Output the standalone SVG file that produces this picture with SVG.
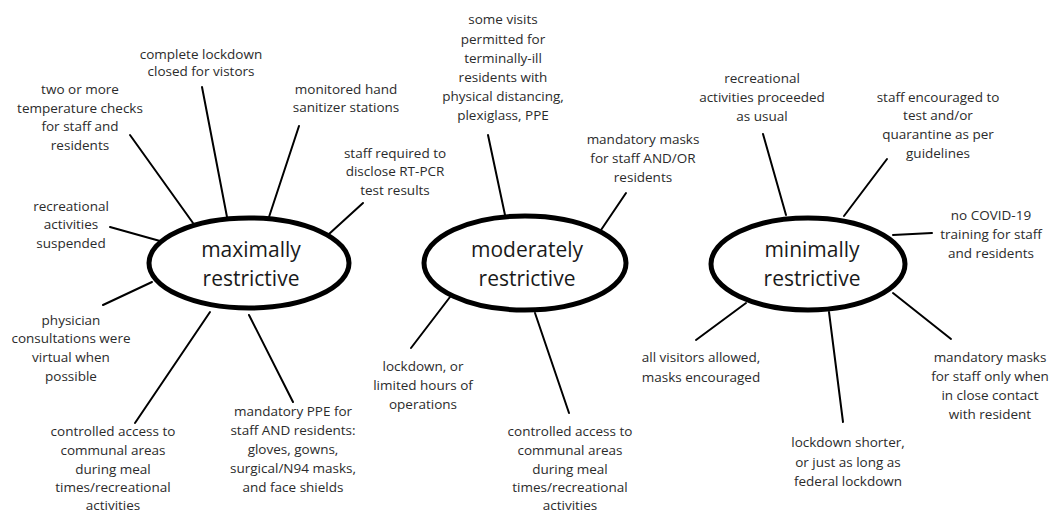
<svg xmlns="http://www.w3.org/2000/svg" width="1051" height="513" viewBox="0 0 1051 513">
<style>
.lbl{font-family:"Open Sans","Liberation Sans",sans-serif;font-size:13.5px;fill:#2b2b2b;text-anchor:middle}
.hub{font-family:"Open Sans","Liberation Sans",sans-serif;font-size:21px;fill:#1a1a1a;text-anchor:middle}
.ell{fill:#fff;stroke:#000;stroke-width:5}
.con line{stroke:#000;stroke-width:2;stroke-linecap:round}
</style>
<rect width="1051" height="513" fill="#fff"/>
<g id="connectors" class="con">
<line x1="130" y1="135" x2="193" y2="223"/>
<line x1="202" y1="87" x2="227" y2="217"/>
<line x1="299" y1="126" x2="269" y2="217"/>
<line x1="363" y1="203" x2="329" y2="234"/>
<line x1="110" y1="227" x2="160" y2="241"/>
<line x1="103" y1="305" x2="152" y2="282"/>
<line x1="135" y1="423" x2="210" y2="312"/>
<line x1="293" y1="402" x2="249" y2="315"/>
<line x1="488" y1="135" x2="505" y2="215"/>
<line x1="626" y1="193" x2="601" y2="230"/>
<line x1="450" y1="297" x2="411" y2="348"/>
<line x1="535" y1="313" x2="569" y2="413"/>
<line x1="763" y1="134" x2="786" y2="215"/>
<line x1="887" y1="159" x2="844" y2="216"/>
<line x1="893" y1="235" x2="932" y2="233"/>
<line x1="746" y1="303" x2="696" y2="340"/>
<line x1="829" y1="312" x2="843" y2="422"/>
<line x1="893" y1="293" x2="951" y2="339"/>
</g>
<g id="hub-max">
<ellipse class="ell" cx="249" cy="263" rx="100" ry="45"/>
<text class="hub" x="251" y="257">maximally</text>
<text class="hub" x="251" y="286">restrictive</text>
</g>
<g id="hub-mod">
<ellipse class="ell" cx="525" cy="263" rx="101" ry="47"/>
<text class="hub" x="527" y="257">moderately</text>
<text class="hub" x="527" y="286">restrictive</text>
</g>
<g id="hub-min">
<ellipse class="ell" cx="808" cy="264" rx="97" ry="46"/>
<text class="hub" x="812" y="257">minimally</text>
<text class="hub" x="812" y="286">restrictive</text>
</g>
<g id="n-temp"><text class="lbl" x="80" y="94">two or more</text><text class="lbl" x="80" y="113">temperature checks</text><text class="lbl" x="80" y="131">for staff and</text><text class="lbl" x="80" y="150">residents</text></g>
<g id="n-lockdown"><text class="lbl" x="201" y="59">complete lockdown</text><text class="lbl" x="201" y="76">closed for vistors</text></g>
<g id="n-sanitizer"><text class="lbl" x="346" y="94">monitored hand</text><text class="lbl" x="346" y="112">sanitizer stations</text></g>
<g id="n-rtpcr"><text class="lbl" x="395" y="158">staff required to</text><text class="lbl" x="395" y="176">disclose RT-PCR</text><text class="lbl" x="395" y="195">test results</text></g>
<g id="n-rec-susp"><text class="lbl" x="71" y="211">recreational</text><text class="lbl" x="71" y="229">activities</text><text class="lbl" x="71" y="248">suspended</text></g>
<g id="n-physician"><text class="lbl" x="71" y="325">physician</text><text class="lbl" x="71" y="343">consultations were</text><text class="lbl" x="71" y="362">virtual when</text><text class="lbl" x="71" y="381">possible</text></g>
<g id="n-access-max"><text class="lbl" x="113" y="436">controlled access to</text><text class="lbl" x="113" y="455">communal areas</text><text class="lbl" x="113" y="474">during meal</text><text class="lbl" x="113" y="492">times/recreational</text><text class="lbl" x="113" y="510">activities</text></g>
<g id="n-ppe"><text class="lbl" x="293" y="416">mandatory PPE for</text><text class="lbl" x="293" y="435">staff AND residents:</text><text class="lbl" x="293" y="454">gloves, gowns,</text><text class="lbl" x="293" y="473">surgical/N94 masks,</text><text class="lbl" x="293" y="492">and face shields</text></g>
<g id="n-visits"><text class="lbl" x="503" y="24">some visits</text><text class="lbl" x="503" y="44">permitted for</text><text class="lbl" x="503" y="63">terminally-ill</text><text class="lbl" x="503" y="82">residents with</text><text class="lbl" x="503" y="101">physical distancing,</text><text class="lbl" x="503" y="120">plexiglass, PPE</text></g>
<g id="n-masks-mod"><text class="lbl" x="643" y="144">mandatory masks</text><text class="lbl" x="643" y="163">for staff AND/OR</text><text class="lbl" x="643" y="182">residents</text></g>
<g id="n-hours"><text class="lbl" x="423" y="371">lockdown, or</text><text class="lbl" x="423" y="390">limited hours of</text><text class="lbl" x="423" y="409">operations</text></g>
<g id="n-access-mod"><text class="lbl" x="570" y="436">controlled access to</text><text class="lbl" x="570" y="455">communal areas</text><text class="lbl" x="570" y="474">during meal</text><text class="lbl" x="570" y="492">times/recreational</text><text class="lbl" x="570" y="510">activities</text></g>
<g id="n-rec-usual"><text class="lbl" x="762" y="83">recreational</text><text class="lbl" x="762" y="102">activities proceeded</text><text class="lbl" x="762" y="121">as usual</text></g>
<g id="n-test"><text class="lbl" x="938" y="102">staff encouraged to</text><text class="lbl" x="938" y="120">test and/or</text><text class="lbl" x="938" y="139">quarantine as per</text><text class="lbl" x="938" y="158">guidelines</text></g>
<g id="n-training"><text class="lbl" x="991" y="220">no COVID-19</text><text class="lbl" x="991" y="239">training for staff</text><text class="lbl" x="991" y="258">and residents</text></g>
<g id="n-visitors"><text class="lbl" x="701" y="362">all visitors allowed,</text><text class="lbl" x="701" y="382">masks encouraged</text></g>
<g id="n-shorter"><text class="lbl" x="848" y="447">lockdown shorter,</text><text class="lbl" x="848" y="467">or just as long as</text><text class="lbl" x="848" y="486">federal lockdown</text></g>
<g id="n-masks-min"><text class="lbl" x="990" y="362">mandatory masks</text><text class="lbl" x="990" y="381">for staff only when</text><text class="lbl" x="990" y="400">in close contact</text><text class="lbl" x="990" y="419">with resident</text></g>
</svg>
